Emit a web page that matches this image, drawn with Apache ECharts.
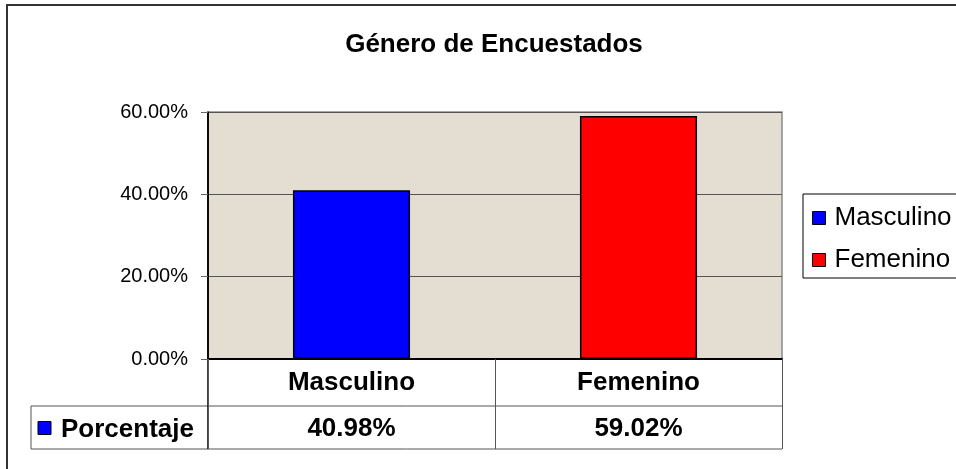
<!DOCTYPE html>
<html>
<head>
<meta charset="utf-8">
<script src="https://cdn.jsdelivr.net/npm/echarts@6/dist/echarts.min.js"></script>
<style>
html,body{margin:0;padding:0;background:#fff;}
#chart{width:956px;height:469px;}
</style>
</head>
<body>
<div id="chart"></div>
<script>
const title = 'Género de Encuestados';
const categories = ['Masculino', 'Femenino'];
const seriesName = 'Porcentaje';
const values = [0.4098, 0.5902];
const barColors = ['#0000FF', '#FF0000'];
const yTicks = { min: 0, max: 0.6, interval: 0.2 };

const FONT = '"Liberation Sans", Arial, sans-serif';
const fmtPct = v => (v * 100).toFixed(2) + '%';

const chart = echarts.init(document.getElementById('chart'), null, { renderer: 'canvas' });

const grid = { left: 208, top: 112, width: 574, height: 247 };

const series = categories.map((name, i) => ({
  name: name,
  type: 'bar',
  stack: 'all',
  barWidth: '40.8%',
  data: values.map((v, j) => (j === i ? v : '-')),
  itemStyle: { color: barColors[i], borderColor: '#000', borderWidth: 1.5 },
  emphasis: { disabled: true }
}));

const option = {
  animation: false,
  backgroundColor: '#ffffff',
  title: {
    text: title,
    left: 489,
    top: 27,
    textAlign: 'center',
    textStyle: { fontFamily: FONT, fontSize: 26, fontWeight: 'bold', color: '#000' }
  },
  legend: {
    orient: 'vertical',
    left: 803,
    top: 194,
    data: categories,
    icon: 'rect',
    itemWidth: 13,
    itemHeight: 13,
    itemGap: 16,
    padding: [11, 30, 5, 9],
    borderColor: '#000',
    borderWidth: 1,
    backgroundColor: '#fff',
    itemStyle: { borderColor: '#000', borderWidth: 1 },
    textStyle: { fontFamily: FONT, fontSize: 26, color: '#000', padding: [0, 0, 0, 4] },
    selectedMode: false
  },
  grid: Object.assign({ show: true, backgroundColor: '#e4ddd1', borderColor: '#8a8a8a', borderWidth: 1.5 }, grid),
  xAxis: [
    {
      type: 'category',
      data: categories,
      position: 'bottom',
      axisLine: { show: true, lineStyle: { color: '#000', width: 2 } },
      axisTick: { show: true, length: 90, lineStyle: { color: '#555', width: 1 } },
      axisLabel: { margin: 11, fontFamily: FONT, fontSize: 26, fontWeight: 'bold', color: '#000' }
    },
    {
      type: 'category',
      data: categories,
      position: 'bottom',
      axisLine: { show: false },
      axisTick: { show: false },
      axisLabel: {
        margin: 57,
        fontFamily: FONT, fontSize: 26, fontWeight: 'bold', color: '#000',
        formatter: (v, i) => fmtPct(values[i])
      }
    }
  ],
  yAxis: {
    type: 'value',
    min: yTicks.min,
    max: yTicks.max,
    interval: yTicks.interval,
    axisLine: { show: true, lineStyle: { color: '#000', width: 1.5 } },
    axisTick: { show: true, inside: false, length: 7, lineStyle: { color: '#666' } },
    splitLine: { show: true, lineStyle: { color: '#555', width: 1 } },
    axisLabel: { margin: 20, fontFamily: FONT, fontSize: 20, color: '#000', formatter: v => fmtPct(v) }
  },
  series: series
};

chart.setOption(option);

// Data table lines and row header, positioned from the grid via the library's scales
const x0 = chart.convertToPixel({ xAxisIndex: 0 }, 0) - grid.width / categories.length / 2;
const x1 = grid.left + grid.width;
const yZero = chart.convertToPixel({ yAxisIndex: 0 }, 0);
const rowMid = yZero + 47;
const rowBot = yZero + 90;
const tableLeft = 31;
const lineStyle = { stroke: '#555', lineWidth: 1 };

chart.setOption({
  graphic: [
    { type: 'rect', shape: { x: 7, y: 5, width: 1000, height: 1000 }, style: { fill: 'none', stroke: '#333', lineWidth: 2 }, silent: true },
    { type: 'line', shape: { x1: tableLeft, y1: rowMid, x2: x1, y2: rowMid }, style: lineStyle, silent: true },
    { type: 'line', shape: { x1: tableLeft, y1: rowBot, x2: x1, y2: rowBot }, style: lineStyle, silent: true },
    { type: 'line', shape: { x1: tableLeft, y1: rowMid, x2: tableLeft, y2: rowBot }, style: lineStyle, silent: true },
    { type: 'line', shape: { x1: x0, y1: grid.top, x2: x0, y2: rowBot }, style: { stroke: '#000', lineWidth: 1.5 }, silent: true },
    { type: 'rect', shape: { x: 38, y: (rowMid + rowBot) / 2 - 6, width: 13, height: 13 }, style: { fill: barColors[0], stroke: '#000', lineWidth: 1 }, silent: true },
    { type: 'text', x: 61, y: (rowMid + rowBot) / 2 + 2, style: { text: seriesName, fontFamily: FONT, fontSize: 26, fontWeight: 'bold', fill: '#000', verticalAlign: 'middle', align: 'left' }, silent: true }
  ]
});
</script>
</body>
</html>
